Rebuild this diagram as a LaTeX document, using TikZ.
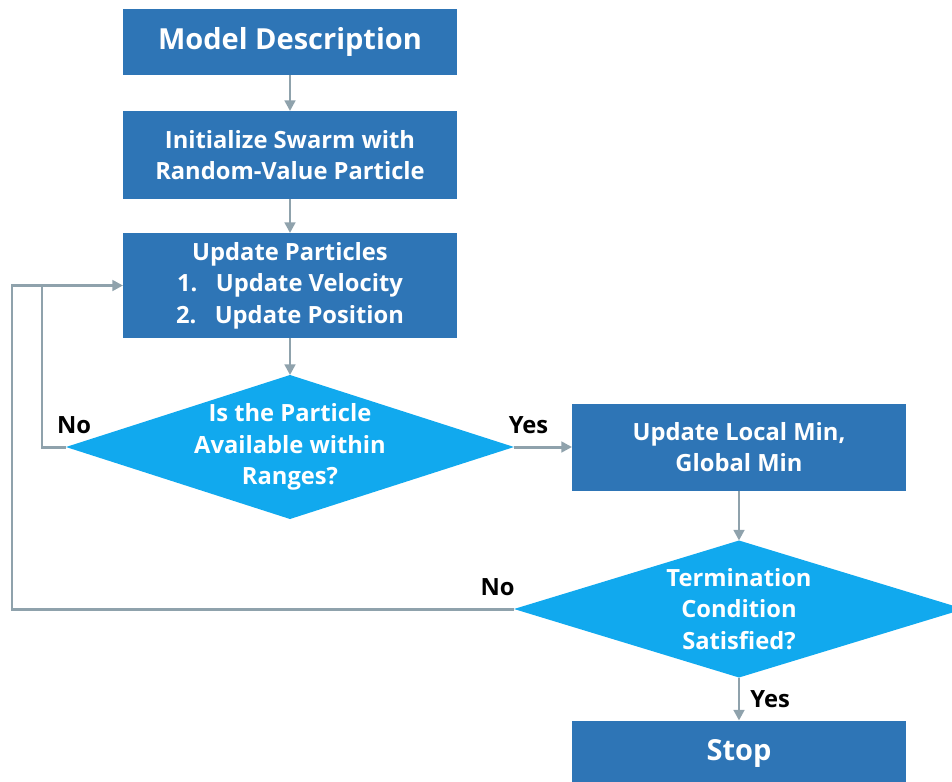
\documentclass[tikz,border=0pt]{standalone}
\usepackage{fontspec}
\setmainfont{Open Sans}
\usetikzlibrary{positioning, arrows.meta, shapes.geometric}
\definecolor{boxblue}{HTML}{2E75B6}
\definecolor{diamondblue}{HTML}{11A9EE}
\definecolor{linegray}{HTML}{8FA2AC}
\tikzset{
	node distance = 0.7cm,
	font = \bfseries\fontsize{13.5}{18}\selectfont,
	box/.style={
		fill=boxblue,
		text=white,
		align=center,
		minimum width=6.68cm,
		inner sep=0pt,
		outer sep=0pt
	},
	big/.style={
		font=\bfseries\fontsize{16.5}{20}\selectfont
	},
	decision/.style={
		diamond,
		fill=diamondblue,
		minimum width=8.96cm,
		minimum height=2.88cm,
		inner sep=0pt,
		outer sep=0pt
	},
	inside/.style={
		text=white,
		align=center
	},
	link/.style={
		draw=linegray,
		line width=1.7pt
	},
	flow/.style={
		link,
		-{Triangle[length=6pt,width=6pt]}
	}
}

\begin{document}
\begin{tikzpicture}
\useasboundingbox (0,0) rectangle (19.04,-15.64);

\node[box, big, minimum height=1.32cm] (model) at (5.8,-0.84) {Model Description};
\node[box, minimum height=1.76cm, below=0.72cm of model] (init) {Initialize Swarm with\\Random-Value Particle};
\node[box, minimum height=2.1cm, below=0.68cm of init] (particles) {Update Particles\\1.\ \ \ Update Velocity\\2.\ \ \ Update Position};
\node[decision, below=0.74cm of particles, label={[inside]center:{Is the Particle\\Available within\\Ranges?}}] (avail) {};
\node[box, minimum height=1.74cm, right=1.16cm of avail] (minima) {Update Local Min,\\Global Min};
\node[decision, minimum width=9cm, minimum height=2.74cm, below=1cm of minima, label={[inside]center:{Termination\\Condition\\Satisfied?}}] (term) {};
\node[box, big, minimum height=1.32cm, below=0.86cm of term] (stop) {Stop};

\coordinate[left=1.62cm of particles.west] (join);
\coordinate[left=2.22cm of particles.west] (back);

\draw[flow] (model) -- (init);
\draw[flow] (init) -- (particles);
\draw[flow] (particles) -- (avail);
\draw[flow] (avail) -- node[pos=0.25, above=3.5pt] {Yes} (minima);
\draw[flow] (minima) -- (term);
\draw[flow] (term) -- node[right=2.3pt] {Yes} (stop);

% loops back to the update step
\draw[link] (avail.west) node[above, xshift=0.16cm, yshift=3.5pt] {No} -| (join);
\draw[flow] (term.west) node[above left, xshift=0.16cm, yshift=3.5pt] {No} -| (back) -- (particles.west);
\end{tikzpicture}
\end{document}
